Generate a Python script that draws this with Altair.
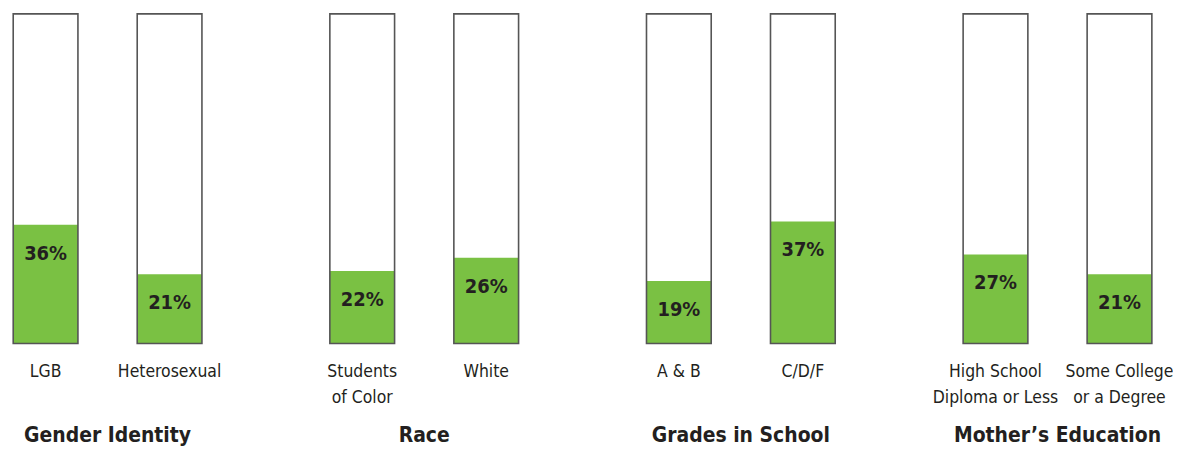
import altair as alt
import pandas as pd

groups = ["Gender Identity", "Gender Identity", "Race", "Race",
          "Grades in School", "Grades in School", "Mother’s Education", "Mother’s Education"]
categories = ["LGB", "Heterosexual", "Students|of Color", "White",
              "A & B", "C/D/F", "High School|Diploma or Less", "Some College|or a Degree"]
values = [36, 21, 22, 26, 19, 37, 27, 21]
group_order = ["Gender Identity", "Race", "Grades in School", "Mother’s Education"]

df = pd.DataFrame({"group": groups, "cat": categories, "value": values})
df["label"] = df["value"].astype(str) + "%"

FONT = "'DejaVu Sans Condensed', sans-serif"
GREEN = "#7ac143"
TEXT = "#231f20"

x_enc = alt.X("cat:N", sort=None,
              scale=alt.Scale(paddingInner=0.478, paddingOuter=0.042),
              axis=alt.Axis(title=None, domain=False, ticks=False, labelAngle=0,
                            labelExpr="split(datum.label, '|')",
                            labelFont=FONT, labelFontSize=17.5, labelColor=TEXT,
                            labelPadding=19, labelLineHeight=26, labelBaseline="top"))
y_scale = alt.Scale(domain=[0, 100])

base = alt.Chart()

frame_bg = base.mark_bar(fill="white").encode(
    x=x_enc,
    y=alt.Y(datum=100, type="quantitative", scale=y_scale, axis=None),
    y2=alt.datum(0),
)
green = base.mark_bar(fill=GREEN).encode(
    x=x_enc,
    y=alt.Y("value:Q", scale=y_scale, axis=None),
)
outline = base.mark_bar(fill="white", fillOpacity=0, stroke="#555555", strokeWidth=1.6).encode(
    x=x_enc,
    y=alt.Y(datum=100, type="quantitative", scale=y_scale, axis=None),
    y2=alt.datum(0),
)
text = base.mark_text(font=FONT, fontSize=20, fontWeight="bold", color=TEXT,
                      baseline="middle", dy=29).encode(
    x=x_enc,
    y=alt.Y("value:Q", scale=y_scale, axis=None),
    text="label:N",
)

layer = alt.layer(frame_bg, green, outline, text, data=df).properties(width=200, height=331)

chart = layer.facet(
    column=alt.Column("group:N", sort=group_order,
                      header=alt.Header(title=None, labelOrient="bottom",
                                        labelFont=FONT, labelFontSize=21,
                                        labelFontWeight="bold", labelColor=TEXT,
                                        labelPadding=82)),
    spacing=118,
    bounds="flush",
).resolve_scale(x="independent").properties(
    padding={"left": 0, "top": 4, "right": 0, "bottom": 0}
).configure_view(stroke=None)

chart.save("out.html", embed_options={"renderer": "svg", "actions": False})
